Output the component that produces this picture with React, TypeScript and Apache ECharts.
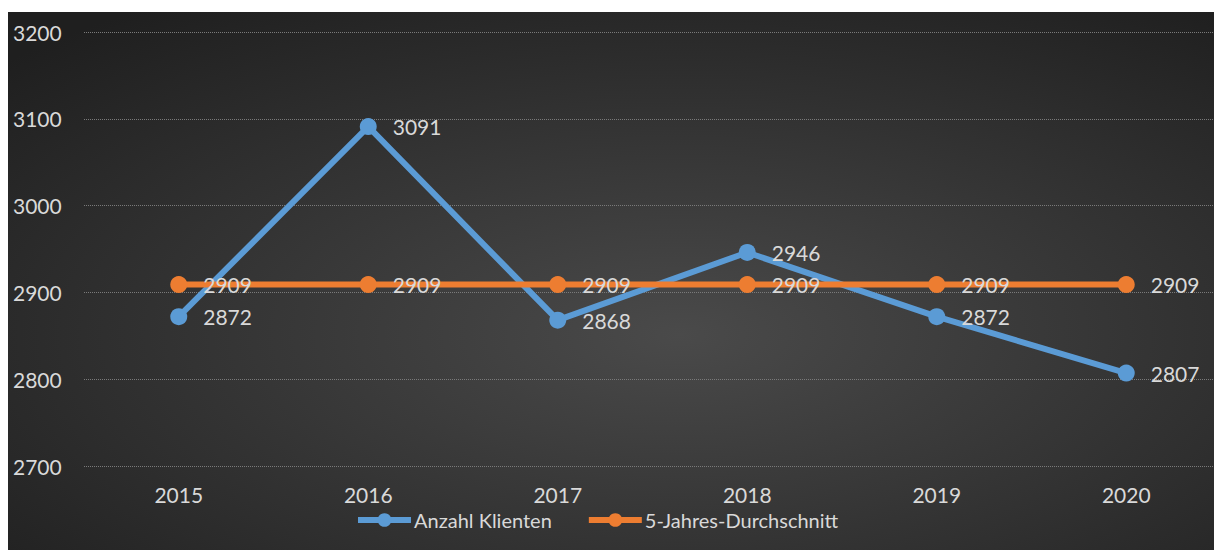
import React, { useEffect, useRef } from "react";
import * as echarts from "echarts";

const years = ["2015", "2016", "2017", "2018", "2019", "2020"];
const klienten = [2872, 3091, 2868, 2946, 2872, 2807];
const durchschnitt = [2909, 2909, 2909, 2909, 2909, 2909];
const yTicks = { min: 2700, max: 3200, interval: 100 };

const FONT = "Lato";
const TXT = "#d9d9d9";

export default function App() {
  const ref = useRef<HTMLDivElement>(null);
  useEffect(() => {
    const chart = echarts.init(ref.current!, undefined, { renderer: "svg" });
    chart.setOption({
      animation: false,
      backgroundColor: "#ffffff",
      graphic: [
        {
          type: "rect",
          z: -10,
          silent: true,
          shape: { x: 8, y: 12, width: 1222, height: 538 },
          style: {
            fill: new echarts.graphic.RadialGradient(0.55, 0.6, 0.75, [
              { offset: 0, color: "#4a4a4a" },
              { offset: 1, color: "#1f1f1f" },
            ]),
          },
        },
      ],
      grid: { left: 84, width: 1137, top: 32, height: 434, containLabel: false },
      legend: {
        top: 505,
        left: 350,
        itemWidth: 53,
        itemHeight: 17,
        itemGap: 34,
        lineStyle: { width: 6 },
        textStyle: { color: TXT, fontFamily: FONT, fontSize: 20, padding: [0, 0, 0, -2] },
        data: ["Anzahl Klienten", "5-Jahres-Durchschnitt"],
      },
      xAxis: {
        type: "category",
        data: years,
        boundaryGap: true,
        axisLine: { show: false },
        axisTick: { show: false },
        axisLabel: { color: TXT, fontFamily: FONT, fontSize: 21, margin: 18 },
      },
      yAxis: {
        type: "value",
        min: yTicks.min,
        max: yTicks.max,
        interval: yTicks.interval,
        axisLine: { show: false },
        axisTick: { show: false },
        axisLabel: {
          color: TXT,
          fontFamily: FONT,
          fontSize: 21,
          align: "left",
          margin: 71,
          formatter: (v: number) => String(v),
        },
        splitLine: { lineStyle: { color: "#7a7a7a", type: "dotted", width: 1 } },
      },
      series: [
        {
          name: "Anzahl Klienten",
          type: "line",
          data: klienten,
          symbol: "circle",
          symbolSize: 17,
          color: "#5b9bd5",
          lineStyle: { width: 6, color: "#5b9bd5" },
          itemStyle: { color: "#5b9bd5" },
          label: {
            show: true,
            position: "right",
            distance: 16,
            color: TXT,
            fontFamily: FONT,
            fontSize: 21,
          },
          z: 2,
        },
        {
          name: "5-Jahres-Durchschnitt",
          type: "line",
          data: durchschnitt,
          symbol: "circle",
          symbolSize: 17,
          color: "#ed7d31",
          lineStyle: { width: 6, color: "#ed7d31" },
          itemStyle: { color: "#ed7d31" },
          label: {
            show: true,
            position: "right",
            distance: 16,
            color: TXT,
            fontFamily: FONT,
            fontSize: 21,
          },
          z: 3,
        },
      ],
    });
    return () => chart.dispose();
  }, []);
  return (
    <div
      style={{
        position: "absolute",
        left: 0,
        top: 0,
        width: 1214,
        height: 550,
        overflow: "hidden",
      }}
    >
      <div ref={ref} style={{ width: 1230, height: 550 }} />
    </div>
  );
}
